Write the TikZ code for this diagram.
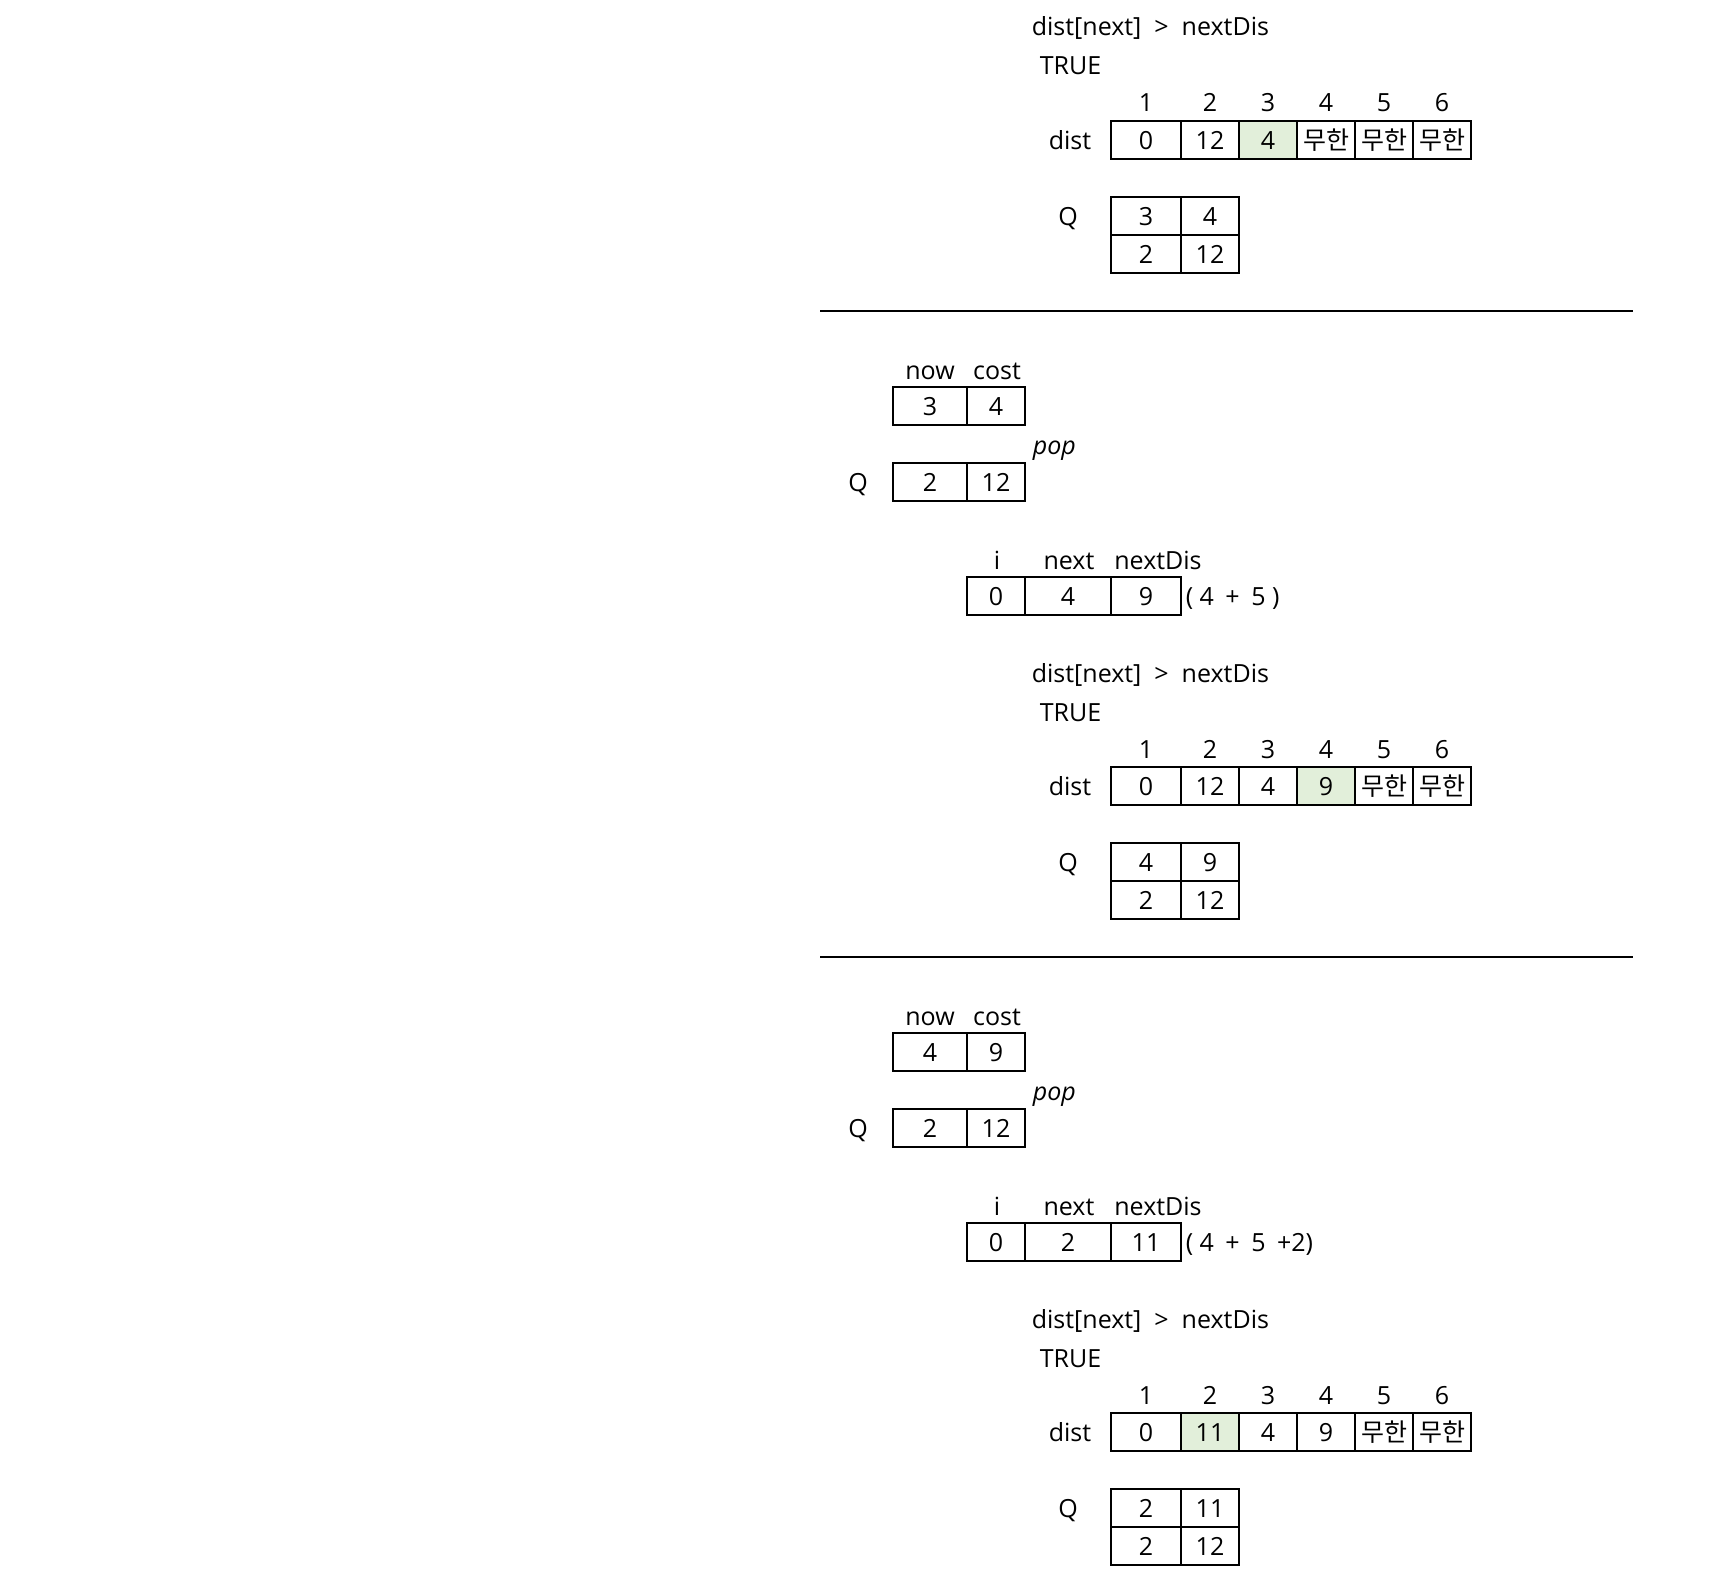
\documentclass[tikz,border=0pt]{standalone}
\usepackage{fontspec}
\setmainfont{Open Sans}
\newfontfamily\krfont{Noto Sans CJK KR}
\usepackage{tikz}
\definecolor{hlgreen}{RGB}{226, 239, 218}
\def\rowh{38pt}
\def\wa{70pt}
\def\wb{58pt}
\def\wnow{74pt}
\def\wnext{86pt}
\def\gap{\hspace{5pt}}
\newcommand\muhan{{\krfont 무한}}

\begin{document}
\begin{tikzpicture}[x=1pt, y=-1pt, line width=1.6pt,
    txt/.style={font=\fontsize{25pt}{30pt}\selectfont, inner sep=0pt, text height=18pt, text depth=0pt},
    cell/.style={txt, draw, minimum height=\rowh},
    hl/.style={cell, fill=hlgreen}]

                 \useasboundingbox (0,0) rectangle (1720,1576);

                 % first step (tail)
                 \begin{scope}[shift={(0,-646)}]
                 \node[txt, anchor=west] (conda) at (1031,673) {dist[next] \ > \ nextDis};
                 \node[txt, anchor=west] (truea) at (1039,712) {TRUE};
                 \node[txt] (ia1) at (1146,749) {1};
                 \node[txt] (ia2) at (1210,749) {2};
                 \node[txt] (ia3) at (1268,749) {3};
                 \node[txt] (ia4) at (1326,749) {4};
                 \node[txt] (ia5) at (1384,749) {5};
                 \node[txt] (ia6) at (1442,749) {6};
                 \node[txt] (dla) at (1070,786) {dist};
                 \node[cell, minimum width=\wa] (da1) at (1146,786) {0};
                 \node[cell, minimum width=\wb] (da2) at (1210,786) {12};
                 \node[hl, minimum width=\wb] (da3) at (1268,786) {4};
                 \node[cell, minimum width=\wb] (da4) at (1326,786) {\muhan};
                 \node[cell, minimum width=\wb] (da5) at (1384,786) {\muhan};
                 \node[cell, minimum width=\wb] (da6) at (1442,786) {\muhan};
                 \node[txt] (qla) at (1068,862) {Q};
                 \node[cell, minimum width=\wa] (qa11) at (1146,862) {3};
                 \node[cell, minimum width=\wb] (qa12) at (1210,862) {4};
                 \node[cell, minimum width=\wa] (qa21) at (1146,900) {2};
                 \node[cell, minimum width=\wb] (qa22) at (1210,900) {12};
                 \draw[line width=2pt] (820,957) -- (1633,957);
                 \end{scope}

                 % second step
                 \begin{scope}
                 \node[txt] (nowb) at (930,370) {now};
                 \node[txt] (costb) at (997,370) {cost};
                 \node[cell, minimum width=\wnow] (nb) at (930,406) {3};
                 \node[cell, minimum width=\wb] (cb) at (996,406) {4};
                 \node[txt, anchor=west, font=\fontsize{25pt}{30pt}\selectfont\itshape] (popb) at (1032,445) {pop};
                 \node[txt] (qpb) at (858,482) {Q};
                 \node[cell, minimum width=\wnow] (pb1) at (930,482) {2};
                 \node[cell, minimum width=\wb] (pb2) at (996,482) {12};
                 \node[txt] (hib) at (997,560) {i};
                 \node[txt] (hnb) at (1069,560) {next};
                 \node[txt] (hdb) at (1158,560) {nextDis};
                 \node[cell, minimum width=\wb] (vib) at (996,596) {0};
                 \node[cell, minimum width=\wnext] (vnb) at (1068,596) {4};
                 \node[cell, minimum width=\wa] (vdb) at (1146,596) {9};
                 \node[txt, anchor=west] (sumb) at (1185,596) {( 4 \gap+ \gap5 )};
                 \node[txt, anchor=west] (condb) at (1031,673) {dist[next] \ > \ nextDis};
                 \node[txt, anchor=west] (trueb) at (1039,712) {TRUE};
                 \node[txt] (ib1) at (1146,749) {1};
                 \node[txt] (ib2) at (1210,749) {2};
                 \node[txt] (ib3) at (1268,749) {3};
                 \node[txt] (ib4) at (1326,749) {4};
                 \node[txt] (ib5) at (1384,749) {5};
                 \node[txt] (ib6) at (1442,749) {6};
                 \node[txt] (dlb) at (1070,786) {dist};
                 \node[cell, minimum width=\wa] (db1) at (1146,786) {0};
                 \node[cell, minimum width=\wb] (db2) at (1210,786) {12};
                 \node[cell, minimum width=\wb] (db3) at (1268,786) {4};
                 \node[hl, minimum width=\wb] (db4) at (1326,786) {9};
                 \node[cell, minimum width=\wb] (db5) at (1384,786) {\muhan};
                 \node[cell, minimum width=\wb] (db6) at (1442,786) {\muhan};
                 \node[txt] (qlb) at (1068,862) {Q};
                 \node[cell, minimum width=\wa] (qb11) at (1146,862) {4};
                 \node[cell, minimum width=\wb] (qb12) at (1210,862) {9};
                 \node[cell, minimum width=\wa] (qb21) at (1146,900) {2};
                 \node[cell, minimum width=\wb] (qb22) at (1210,900) {12};
                 \draw[line width=2pt] (820,957) -- (1633,957);
                 \end{scope}

                 % third step
                 \begin{scope}[shift={(0,646)}]
                 \node[txt] (nowc) at (930,370) {now};
                 \node[txt] (costc) at (997,370) {cost};
                 \node[cell, minimum width=\wnow] (nc) at (930,406) {4};
                 \node[cell, minimum width=\wb] (cc) at (996,406) {9};
                 \node[txt, anchor=west, font=\fontsize{25pt}{30pt}\selectfont\itshape] (popc) at (1032,445) {pop};
                 \node[txt] (qpc) at (858,482) {Q};
                 \node[cell, minimum width=\wnow] (pc1) at (930,482) {2};
                 \node[cell, minimum width=\wb] (pc2) at (996,482) {12};
                 \node[txt] (hic) at (997,560) {i};
                 \node[txt] (hnc) at (1069,560) {next};
                 \node[txt] (hdc) at (1158,560) {nextDis};
                 \node[cell, minimum width=\wb] (vic) at (996,596) {0};
                 \node[cell, minimum width=\wnext] (vnc) at (1068,596) {2};
                 \node[cell, minimum width=\wa] (vdc) at (1146,596) {11};
                 \node[txt, anchor=west] (sumc) at (1185,596) {( 4 \gap+ \gap5 \gap+2)};
                 \node[txt, anchor=west] (condc) at (1031,673) {dist[next] \ > \ nextDis};
                 \node[txt, anchor=west] (truec) at (1039,712) {TRUE};
                 \node[txt] (ic1) at (1146,749) {1};
                 \node[txt] (ic2) at (1210,749) {2};
                 \node[txt] (ic3) at (1268,749) {3};
                 \node[txt] (ic4) at (1326,749) {4};
                 \node[txt] (ic5) at (1384,749) {5};
                 \node[txt] (ic6) at (1442,749) {6};
                 \node[txt] (dlc) at (1070,786) {dist};
                 \node[cell, minimum width=\wa] (dc1) at (1146,786) {0};
                 \node[hl, minimum width=\wb] (dc2) at (1210,786) {11};
                 \node[cell, minimum width=\wb] (dc3) at (1268,786) {4};
                 \node[cell, minimum width=\wb] (dc4) at (1326,786) {9};
                 \node[cell, minimum width=\wb] (dc5) at (1384,786) {\muhan};
                 \node[cell, minimum width=\wb] (dc6) at (1442,786) {\muhan};
                 \node[txt] (qlc) at (1068,862) {Q};
                 \node[cell, minimum width=\wa] (qc11) at (1146,862) {2};
                 \node[cell, minimum width=\wb] (qc12) at (1210,862) {11};
                 \node[cell, minimum width=\wa] (qc21) at (1146,900) {2};
                 \node[cell, minimum width=\wb] (qc22) at (1210,900) {12};
                 \end{scope}

             \end{tikzpicture}
\end{document}
